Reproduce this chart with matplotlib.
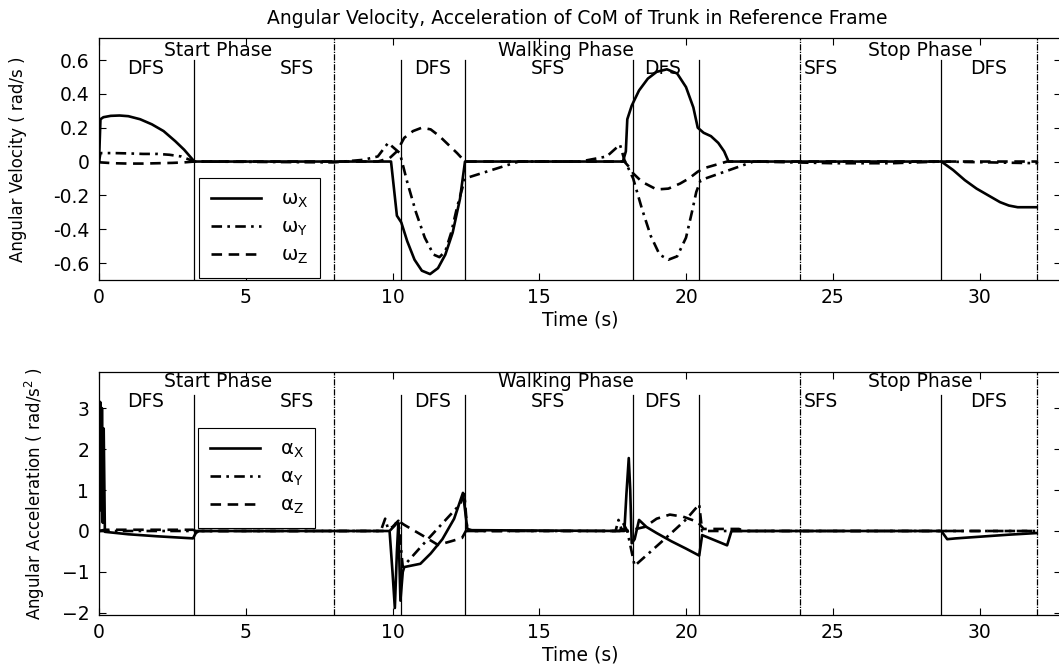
import matplotlib
matplotlib.use("Agg")
import matplotlib.pyplot as plt
import numpy as np

plt.rcParams['font.family'] = ['DejaVu Sans']
plt.rcParams['mathtext.fontset'] = 'dejavusans'

#----------------------- data --------------------------------------------------
# angular velocity (rad/s)
t_wx = [0, 0.05, 0.15, 0.4, 0.7, 1.0, 1.4, 1.8, 2.2, 2.6, 2.9, 3.1, 3.25,
        9.95, 10.15, 10.3, 10.5, 10.75, 11.0, 11.28, 11.55, 11.8, 12.05, 12.3, 12.47,
        17.85, 17.95, 18.0, 18.15, 18.4, 18.7, 19.0, 19.35, 19.7, 20.0, 20.25, 20.4,
        20.6, 20.85, 21.1, 21.3, 21.45,
        28.7, 29.1, 29.5, 29.9, 30.3, 30.7, 31.0, 31.3, 31.95]
wx = [0, 0.25, 0.262, 0.27, 0.272, 0.268, 0.25, 0.22, 0.18, 0.12, 0.07, 0.03, 0,
      0, -0.32, -0.36, -0.47, -0.58, -0.645, -0.665, -0.63, -0.55, -0.42, -0.22, 0,
      0, 0.06, 0.25, 0.33, 0.42, 0.49, 0.53, 0.545, 0.52, 0.44, 0.32, 0.2,
      0.17, 0.15, 0.11, 0.06, 0,
      0, -0.05, -0.11, -0.16, -0.2, -0.24, -0.26, -0.27, -0.27]

t_wy = [0, 0.05, 0.5, 1.0, 1.5, 2.0, 2.4, 2.8, 3.1, 3.25, 8.0, 9.0, 9.5, 9.85,
        10.05, 10.25, 10.5, 10.8, 11.1, 11.4, 11.6, 11.8, 12.0, 12.2, 12.47,
        14.3, 16.4, 17.3, 17.75, 17.9, 18.2, 18.5, 18.8, 19.1, 19.4, 19.7, 20.0,
        20.2, 20.35, 20.5, 22.3, 25.0, 27.0, 28.7, 32.0]
wy = [0, 0.05, 0.05, 0.048, 0.045, 0.045, 0.04, 0.03, 0.01, 0, -0.005, 0.01, 0.03, 0.11,
      0.08, 0.05, -0.12, -0.3, -0.45, -0.55, -0.565, -0.53, -0.42, -0.27, -0.1,
      0, 0, 0.03, 0.1, 0.01, -0.1, -0.28, -0.44, -0.55, -0.58, -0.56, -0.45,
      -0.3, -0.18, -0.11, 0, -0.01, -0.01, 0, -0.01]

t_wz = [0, 0.05, 0.5, 1.0, 1.5, 2.0, 2.5, 2.9, 3.25, 9.5, 9.9, 10.15, 10.4, 10.7,
        11.0, 11.3, 11.6, 11.9, 12.2, 12.47, 17.9, 18.1, 18.2, 18.5, 19.0, 19.4,
        19.8, 20.1, 20.4, 20.6, 21.0, 21.4, 32.0]
wz = [0, -0.005, -0.01, -0.012, -0.012, -0.01, -0.008, -0.005, 0, 0, 0.02, 0.06, 0.14, 0.18,
      0.2, 0.19, 0.15, 0.1, 0.05, 0, 0, -0.04, -0.07, -0.12, -0.165, -0.16,
      -0.13, -0.1, -0.06, -0.04, -0.02, 0, 0]

# angular acceleration (rad/s^2)
t_ax = [0, 0.04, 0.08, 0.1, 0.13, 0.16, 0.2, 1.0, 2.0, 3.2, 3.3, 3.4,
        9.9, 10.0, 10.08, 10.15, 10.2, 10.27, 10.35, 10.4, 10.95, 11.3, 11.7, 12.1,
        12.4, 12.55, 12.7, 17.9, 17.97, 18.05, 18.1, 18.15, 18.25, 18.4, 18.65,
        19.0, 19.5, 20.0, 20.45, 20.55, 21.4, 21.55,
        28.7, 28.9, 29.2, 30.0, 31.0, 31.95]
ax_ = [0, 3.15, 0.5, 3.0, 0.2, 2.5, -0.02, -0.08, -0.13, -0.18, -0.05, 0,
       0, -1.0, -1.88, -0.5, 0.2, -1.7, -1.0, -0.88, -0.8, -0.55, -0.2, 0.3,
       0.93, 0.05, 0.02, 0, 0.9, 1.78, 1.0, -0.3, -0.2, 0.27, 0.1,
       -0.05, -0.25, -0.43, -0.6, -0.1, -0.35, 0,
       0, -0.2, -0.18, -0.14, -0.09, -0.05]

t_ay = [0, 3.2, 9.6, 9.75, 9.85, 10.0, 10.2, 10.35, 11.0, 11.5, 12.3, 12.45, 12.55,
        17.6, 17.7, 17.8, 18.0, 18.25, 18.8, 19.5, 20.0, 20.45, 20.55, 32.0]
ay = [0, 0, 0, 0.3, 0.05, 0.1, 0.25, -0.88, -0.36, 0.03, 0.65, 0.9, 0,
      0, 0.27, 0.05, 0.0, -0.85, -0.5, -0.05, 0.28, 0.65, 0, 0]

t_az = [0, 0.2, 3.2, 3.3, 9.9, 10.1, 10.15, 10.4, 11.0, 11.55, 12.0, 12.37, 12.5,
        17.75, 17.85, 18.0, 18.6, 19.0, 19.45, 19.9, 20.4, 20.6, 21.8, 22.0, 32.0]
az = [0, 0.03, 0.03, 0, 0, 0.15, 0.27, 0.15, -0.1, -0.34, -0.25, -0.17, 0,
      0, 0.2, 0, 0.1, 0.3, 0.4, 0.35, 0.22, 0.05, 0.05, 0, 0]

# phase boundaries
phase_lines = [8.0, 23.9, 31.95]
step_lines = [3.25, 10.3, 12.47, 18.2, 20.45, 28.7]
phase_names = ["Start Phase", "Walking Phase", "Stop Phase"]
phase_x = [4.05, 15.9, 28.0]
step_names = ["DFS", "SFS", "DFS", "SFS", "DFS", "SFS", "DFS"]
step_x = [1.6, 6.75, 11.35, 15.3, 19.2, 24.6, 30.3]

xticks = [0, 5, 10, 15, 20, 25, 30]
yticks_w = [-0.6, -0.4, -0.2, 0, 0.2, 0.4, 0.6]
ylabels_w = ["-0.6", "-0.4", "-0.2", "0", "0.2", "0.4", "0.6"]
yticks_a = [-2, -1, 0, 1, 2, 3]

#----------------------- figure ------------------------------------------------
W, H = 1059, 671
fig = plt.figure(figsize=(W / 100, H / 100), dpi=100)

x0px, x1px = 99, 1061
xmax = (x1px - x0px) / 29.35

ax1 = fig.add_axes([x0px / W, 1 - 280 / H, (x1px - x0px) / W, (280 - 38) / H])
ax2 = fig.add_axes([x0px / W, 1 - 615 / H, (x1px - x0px) / W, (615 - 372) / H])

dashdot = (0, (4, 2, 1, 2))
dashed = (0, (4, 2.5))
lw = 1.9

ax1.plot(t_wx, wx, color='k', lw=lw, ls='-', label=r'$\mathregular{\omega_X}$')
ax1.plot(t_wy, wy, color='k', lw=lw, ls=dashdot, label=r'$\mathregular{\omega_Y}$')
ax1.plot(t_wz, wz, color='k', lw=lw, ls=dashed, label=r'$\mathregular{\omega_Z}$')

ax2.plot(t_ax, ax_, color='k', lw=lw, ls='-', label=r'$\mathregular{\alpha_X}$')
ax2.plot(t_ay, ay, color='k', lw=lw, ls=dashdot, label=r'$\mathregular{\alpha_Y}$')
ax2.plot(t_az, az, color='k', lw=lw, ls=dashed, label=r'$\mathregular{\alpha_Z}$')

ax1.set_ylim(-0.7, 0.73)
ax2.set_ylim(-2.05, 3.88)

for a, top_frac, ph_y, st_y, leg_xy in [(ax1, 0.91, 0.95, 0.876, (0.104, 0.421)),
                                       (ax2, 0.905, 0.959, 0.88, (0.103, 0.77))]:
    a.set_xlim(0, xmax)
    for x in phase_lines:
        a.axvline(x, color='k', lw=0.9, ls=(0, (5, 1, 1, 1)))
    for x in step_lines:
        a.axvline(x, ymax=top_frac, color='k', lw=0.9)
    for name, x in zip(phase_names, phase_x):
        a.text(x, ph_y, name, transform=a.get_xaxis_transform(),
               ha='center', va='center', fontsize=13.5)
    for name, x in zip(step_names, step_x):
        a.text(x, st_y, name, transform=a.get_xaxis_transform(),
               ha='center', va='center', fontsize=13.5)
    a.set_xticks(xticks)
    a.tick_params(direction='in', top=True, right=True, length=5, width=0.8,
                  labelsize=13.5)
    a.tick_params(axis='x', pad=6)
    a.tick_params(axis='y', pad=7)
    a.set_xlabel("Time (s)", fontsize=13.5, labelpad=2)
    leg = a.legend(loc='upper left', bbox_to_anchor=leg_xy, fontsize=14,
                   handlelength=2.6, frameon=True, fancybox=False, framealpha=1,
                   edgecolor='k', borderpad=0.6, labelspacing=0.4, handletextpad=1.0,
                   borderaxespad=0)
    leg.get_frame().set_linewidth(0.8)
    for s in a.spines.values():
        s.set_linewidth(0.9)

ax1.set_yticks(yticks_w)
ax1.set_yticklabels(ylabels_w)
ax2.set_yticks(yticks_a)
ax1.set_ylabel("Angular Velocity ( rad/s )", fontsize=12)
ax2.set_ylabel(r"Angular Acceleration ( rad/s$^2$ )", fontsize=12)
ax1.yaxis.set_label_coords(-0.075, 0.5)
ax2.yaxis.set_label_coords(-0.054, 0.5)

fig.text(577 / W, 1 - 19 / H,
         "Angular Velocity, Acceleration of CoM of Trunk in Reference Frame",
         ha='center', va='center', fontsize=13.5)

fig.savefig("out.png", dpi=100)
